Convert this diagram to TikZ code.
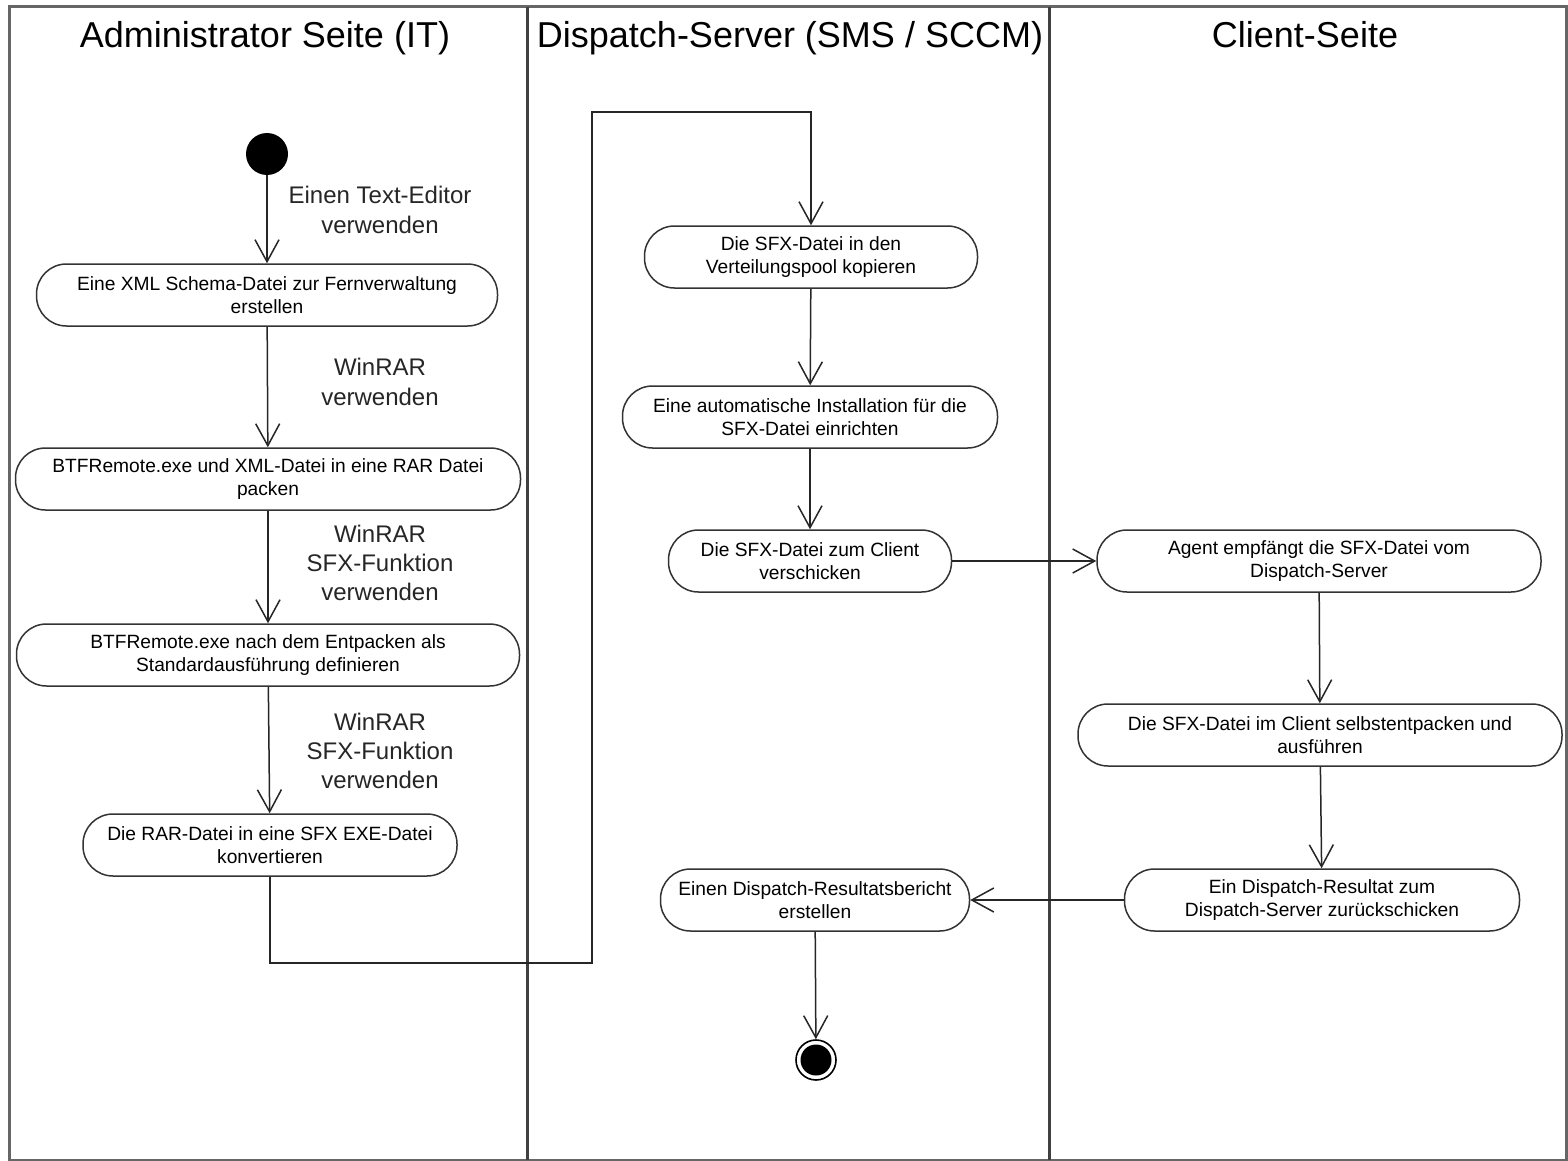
\documentclass[tikz,border=0pt]{standalone}
\usepackage{fontspec}
\setmainfont{Liberation Sans}
\usetikzlibrary{arrows.meta}
\begin{document}
\begin{tikzpicture}[x=0.5pt,y=-0.5pt,
 act/.style={draw=black!80, line width=0.75pt, rounded corners=15pt, minimum height=31pt, inner sep=0pt, align=center, font=\fontsize{9.6}{11.5}\selectfont},
 lbl/.style={align=center, font=\fontsize{12}{14.6}\selectfont, text=black!85},
 flow/.style={draw=black!85, line width=0.75pt, -{Straight Barb[length=11pt,width=12pt]}},
 lane/.style={draw=black!60, line width=1.5pt},
 divider/.style={draw=black!75, line width=1.5pt},
 hdr/.style={font=\fontsize{18}{21}\selectfont, anchor=base}]
\useasboundingbox (0,0) rectangle (1568,1161);
\fill[white] (0,0) rectangle (1568,1161);
% swimlanes
\draw[lane] (9,7) rectangle (1566,1160);
\draw[divider] (527,7) -- (527,1160);
\draw[divider] (1049,7) -- (1049,1160);
\node[hdr] (h1) at (265,48) {Administrator Seite (IT)};
\node[hdr] (h2) at (790,48) {Dispatch-Server (SMS / SCCM)};
\node[hdr] (h3) at (1305,48) {Client-Seite};
% nodes
\node[circle, fill=black, minimum size=21pt, inner sep=0pt] (start) at (267,154) {};
\node[act, minimum width=230.5pt] (A) at (267,295) {Eine XML Schema-Datei zur Fernverwaltung\\erstellen};
\node[act, minimum width=252.5pt] (B) at (268,479) {BTFRemote.exe und XML-Datei in eine RAR Datei\\packen};
\node[act, minimum width=251.5pt] (C) at (268,655) {BTFRemote.exe nach dem Entpacken als\\Standardausführung definieren};
\node[act, minimum width=187pt] (D) at (270,845) {Die RAR-Datei in eine SFX EXE-Datei\\konvertieren};
\node[act, minimum width=166.5pt] (E) at (811,257) {Die SFX-Datei in den\\Verteilungspool kopieren};
\node[act, minimum width=187.5pt] (F) at (810,417) {Eine automatische Installation für die\\SFX-Datei einrichten};
\node[act, minimum width=141.5pt] (G) at (810,561) {Die SFX-Datei zum Client\\verschicken};
\node[act, minimum width=222pt] (H) at (1319,561) {Agent empfängt die SFX-Datei vom\\Dispatch-Server};
\node[act, minimum width=242pt] (I) at (1320,735) {Die SFX-Datei im Client selbstentpacken und\\ausführen};
\node[act, minimum width=197.5pt] (J) at (1322,900) {Ein Dispatch-Resultat zum\\Dispatch-Server zurückschicken};
\node[act, minimum width=154.5pt] (K) at (815,900) {Einen Dispatch-Resultatsbericht\\erstellen};
\node[circle, draw=black, line width=0.8pt, minimum size=20pt, inner sep=0pt] (end) at (816,1060) {};
\node[circle, fill=black, minimum size=15.5pt, inner sep=0pt] (endin) at (816,1060) {};
% edge labels
\node[lbl] (l1) at (380,210) {Einen Text-Editor\\verwenden};
\node[lbl] (l2) at (380,382) {WinRAR\\verwenden};
\node[lbl] (l3) at (380,563) {WinRAR\\SFX-Funktion\\verwenden};
\node[lbl] (l4) at (380,751) {WinRAR\\SFX-Funktion\\verwenden};
% connectors
\coordinate (p1) at (592,963);
\coordinate (p2) at (592,112);
\draw[flow] (start) -- (A);
\draw[flow] (A) -- (B);
\draw[flow] (B) -- (C);
\draw[flow] (C) -- (D);
\draw[flow] (D.south) |- (p1) -- (p2) -| (E.north);
\draw[flow] (E) -- (F);
\draw[flow] (F) -- (G);
\draw[flow] (G) -- (H);
\draw[flow] (H) -- (I);
\draw[flow] (I) -- (J);
\draw[flow] (J) -- (K);
\draw[flow] (K) -- (end);
\end{tikzpicture}
\end{document}
